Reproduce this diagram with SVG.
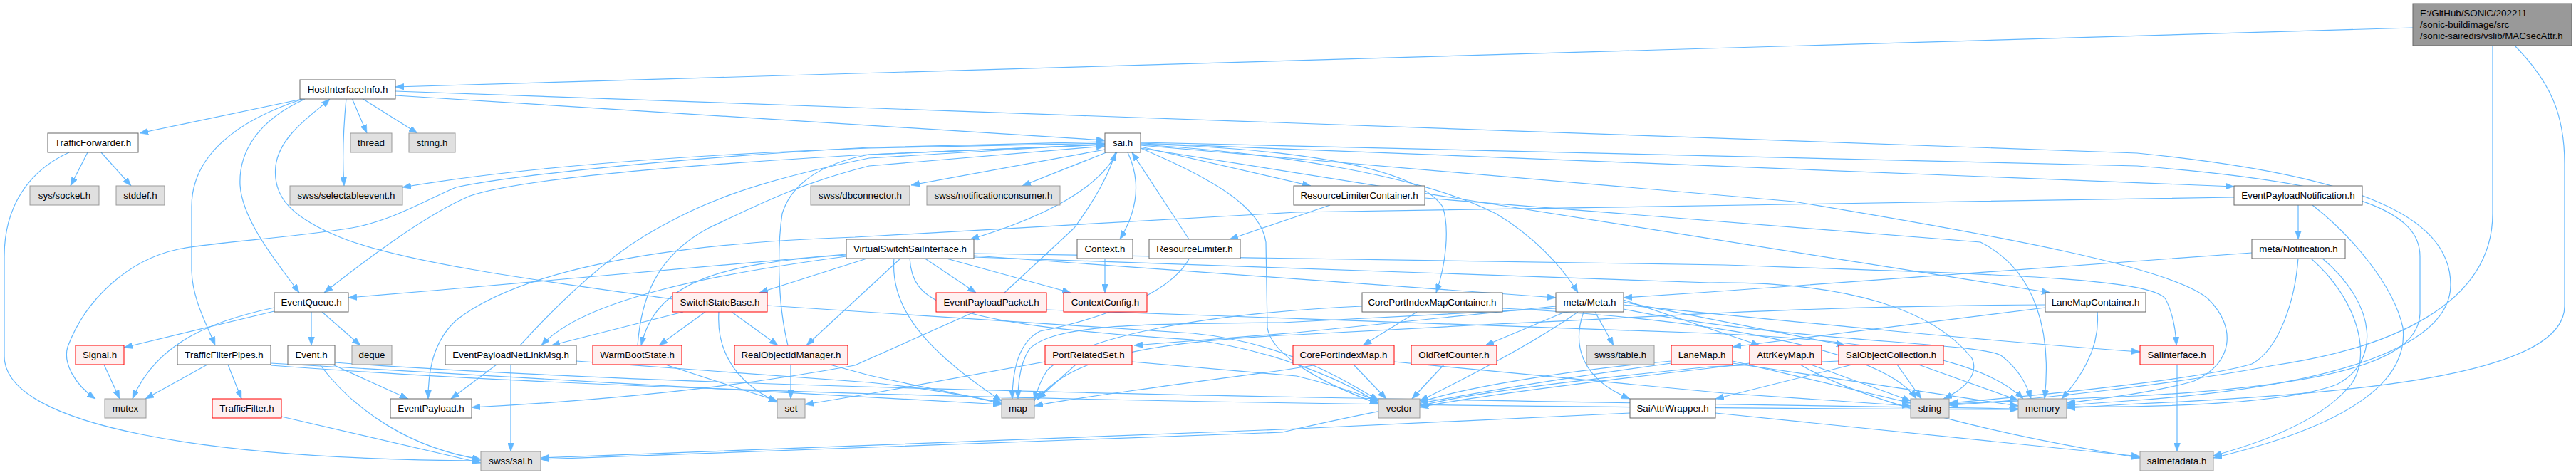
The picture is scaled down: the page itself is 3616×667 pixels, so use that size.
<svg xmlns="http://www.w3.org/2000/svg" width="3616" height="667" viewBox="0 0 3616 667">
<style>
text{font-family:"Liberation Sans",Arial,sans-serif;font-size:13.33px;fill:#000;text-anchor:middle}
.w rect{fill:#fff;stroke:#666;stroke-width:1}
.g rect{fill:#e0e0e0;stroke:#999;stroke-width:1}
.r rect{fill:#fff0f0;stroke:#f00;stroke-width:1}
.root rect{fill:#999;stroke:#666;stroke-width:1}
.root text{text-anchor:start}
#edges path{fill:none;stroke:#63b8ff;stroke-width:1.2;marker-end:url(#ah)}
</style>
<defs>
<marker id="ah" markerWidth="12" markerHeight="9" refX="12" refY="4.5" orient="auto" markerUnits="userSpaceOnUse"><path d="M0,0 L12,4.5 L0,9 z" fill="#63b8ff" stroke="#63b8ff" stroke-width="0.5"/></marker>
</defs>
<rect width="3616" height="667" fill="#fff"/>
<g id="edges">
<path d="M3387,39 L555,122"/>
<path d="M3499,64 L3499,300 C3499,430 3350,490 3192,513 C3050,540 2850,562 2736,569"/>
<path d="M3530,64 C3580,115 3600,160 3600,230 L3600,430 C3600,520 3350,552 3000,567 L2901,573"/>
<path d="M429,138 L196,187"/>
<path d="M494,138 L515,187"/>
<path d="M508,138 L586,187"/>
<path d="M486,138 C482,180 480,220 483,261"/>
<path d="M425,139 C330,170 269,220 269,290 L269,380 C270,420 290,455 302,485"/>
<path d="M428,139 C360,170 335,215 337,260 C340,310 390,370 420,411"/>
<path d="M555,134 L1551,197"/>
<path d="M555,128 L3000,215 C3300,245 3440,300 3440,400 C3440,480 3300,540 3000,562 L2901,569"/>
<path d="M123,214 L99,261"/>
<path d="M142,214 L184,261"/>
<path d="M97,214 C40,240 6,290 6,360 L6,500 C6,600 300,645 675,647"/>
<path d="M1551,201 L1220,208 C900,220 700,240 565,263"/>
<path d="M1551,210 L1279,260"/>
<path d="M1553,214 L1435,261"/>
<path d="M1551,199 L1220,207 C900,225 700,250 640,263 C600,280 550,310 494,320 C400,335 300,340 250,350 C180,365 120,420 95,487 C88,510 105,540 134,560"/>
<path d="M1551,203 L1220,217 C900,235 720,255 660,275 C600,300 520,360 455,411"/>
<path d="M1568,214 C1540,270 1450,310 1362,336"/>
<path d="M1583,214 C1600,250 1600,290 1572,336"/>
<path d="M1601,206 L1840,261"/>
<path d="M1601,201 L3136,262"/>
<path d="M1601,203 C1800,215 1998,248 2100,300 C2150,330 2190,370 2215,411"/>
<path d="M1601,202 C1850,210 1990,240 2025,290 C2035,320 2030,370 2016,411"/>
<path d="M1601,208 L2878,411"/>
<path d="M1601,208 C1700,250 1770,290 1777,340 L1779,460 C1785,500 1860,540 1935,567"/>
<path d="M1601,200 L3000,233 C3320,258 3397,300 3397,360 L3397,440 C3395,500 3300,540 3000,556 L2736,567"/>
<path d="M1601,204 L2518,283 C2800,330 3050,375 3100,420 C3140,460 3135,510 3080,535 C3030,550 2950,560 2901,566"/>
<path d="M1188,357 L620,407 L489,418"/>
<path d="M1188,360 C1000,385 820,420 760,485"/>
<path d="M1188,358 C1000,370 920,400 900,485"/>
<path d="M1220,362 L1066,411"/>
<path d="M1265,362 L1132,485"/>
<path d="M1255,362 C1250,420 1280,480 1406,563"/>
<path d="M1277,362 C1280,420 1310,455 1674,477 C1780,490 1880,530 1935,566"/>
<path d="M1297,362 L1370,411"/>
<path d="M1325,362 L1503,411"/>
<path d="M1367,359 L2184,418"/>
<path d="M1367,356 L2420,372 C2800,385 3020,390 3040,420 C3050,440 3054,460 3055,485"/>
<path d="M1367,361 L2400,397 C2600,395 2716,437 2768,503 C2780,530 2750,550 2728,560"/>
<path d="M3226,288 L3226,336"/>
<path d="M3136,277 L1820,298 L1200,333 C900,343 720,387 640,450 C608,480 601,520 601,560"/>
<path d="M3246,288 C3300,330 3360,400 3373,460 C3380,520 3330,590 3107,643"/>
<path d="M3161,355 L2400,410 L2279,418"/>
<path d="M3226,362 C3222,420 3200,490 3161,511 C3100,530 2900,552 2736,566"/>
<path d="M3243,362 C3310,420 3330,500 3300,540 C3260,590 3180,620 3107,640"/>
<path d="M3259,362 C3340,430 3340,510 3280,540 C3200,570 3000,572 2901,571"/>
<path d="M2197,438 L2085,485"/>
<path d="M2239,438 L2265,485"/>
<path d="M2215,438 C2170,470 2100,510 1993,563"/>
<path d="M2223,438 C2208,480 2215,530 2288,560"/>
<path d="M2279,421 L2470,485"/>
<path d="M2279,424 L2590,485"/>
<path d="M2279,428 C2500,450 2800,480 3004,494"/>
<path d="M2184,430 L1820,467 L1592,485"/>
<path d="M2184,433 L1800,453 C1600,455 1480,455 1445,490 C1432,510 1429,535 1429,560"/>
<path d="M2279,434 C2500,480 2783,480 2810,500 C2835,520 2845,540 2851,560"/>
<path d="M1989,438 L1913,485"/>
<path d="M1912,430 C1700,440 1520,470 1470,520 C1460,535 1455,550 1452,563"/>
<path d="M2109,433 C2450,450 2650,500 2690,560"/>
<path d="M2871,432 L2432,487"/>
<path d="M2944,438 C2948,480 2930,520 2894,560"/>
<path d="M2871,428 C2500,430 2300,447 2100,455 L1820,470 C1600,480 1500,505 1455,562"/>
<path d="M2663,512 L2697,560"/>
<path d="M2693,512 L2833,562"/>
<path d="M2581,507 L2400,515 C2200,535 2050,555 1993,570"/>
<path d="M2600,512 L2408,560"/>
<path d="M2542,512 L2682,563"/>
<path d="M2527,512 C2600,555 2756,603 3004,643"/>
<path d="M2456,510 L2400,517 C2200,540 2050,560 1993,572"/>
<path d="M2346,507 C2200,520 2050,545 1993,565"/>
<path d="M2346,510 C2200,530 2000,560 1800,607 L759,645"/>
<path d="M2432,507 L2682,566"/>
<path d="M2432,510 L2833,570"/>
<path d="M2027,512 L1982,560"/>
<path d="M1900,512 L1946,560"/>
<path d="M1850,512 L1800,520 C1650,540 1500,560 1452,570"/>
<path d="M1957,508 L2420,552 L2682,570"/>
<path d="M2408,580 L3004,641"/>
<path d="M2288,580 L1800,603 L759,643"/>
<path d="M1510,512 L1457,560"/>
<path d="M1467,508 L1220,553 L1130,568"/>
<path d="M1589,508 L1820,528 C1870,540 1900,550 1935,563"/>
<path d="M1410,411 L1508,320 C1530,290 1555,250 1566,214"/>
<path d="M1370,437 L1200,513 C1000,550 800,565 662,572"/>
<path d="M1469,435 L2400,468 C2700,480 2800,520 2840,560"/>
<path d="M1551,362 L1551,411"/>
<path d="M1669,336 L1589,214"/>
<path d="M1670,362 C1640,420 1520,453 1460,465 C1430,480 1421,520 1421,560"/>
<path d="M1867,288 L1726,336"/>
<path d="M2000,278 L2780,340 C2860,380 2880,470 2870,560"/>
<path d="M944,420 C800,400 560,370 470,330 C400,300 383,270 387,233 C392,190 440,160 463,139"/>
<path d="M959,438 L774,485"/>
<path d="M990,438 L925,485"/>
<path d="M1027,438 L1092,485"/>
<path d="M1009,438 C1005,500 1040,540 1091,565"/>
<path d="M1077,429 L1674,468 C1800,480 1880,530 1935,562"/>
<path d="M934,512 L1091,563"/>
<path d="M895,485 C900,420 920,360 995,320 C1060,290 1114,260 1220,233 L1551,205"/>
<path d="M1110,512 L1110,560"/>
<path d="M1165,512 L1220,527 C1300,545 1360,555 1406,567"/>
<path d="M1106,485 C1090,420 1092,340 1098,300 C1110,260 1150,230 1220,217 L1551,203"/>
<path d="M697,512 L633,560"/>
<path d="M717,512 L717,634"/>
<path d="M809,507 L1220,537 C1300,545 1350,555 1406,565"/>
<path d="M730,485 C780,430 850,360 924,320 C980,290 1035,260 1220,222 L1551,202"/>
<path d="M385,437 L174,488"/>
<path d="M385,432 C300,450 220,480 186,560"/>
<path d="M437,438 L437,485"/>
<path d="M452,438 L506,485"/>
<path d="M146,512 L168,560"/>
<path d="M291,512 L204,560"/>
<path d="M320,512 L339,560"/>
<path d="M380,510 C700,530 1100,550 1406,568"/>
<path d="M380,513 C1000,560 2000,572 2833,575"/>
<path d="M467,512 L573,560"/>
<path d="M449,512 C500,580 580,630 675,645"/>
<path d="M470,509 C1000,548 2000,562 2833,574"/>
<path d="M395,585 L675,650"/>
<path d="M3056,512 L3056,634"/>
</g>
<g id="n_root" class="root"><rect x="3387" y="5" width="223" height="59"/><text x="3397" y="23">E:/GitHub/SONiC/202211</text><text x="3397" y="39">/sonic-buildimage/src</text><text x="3397" y="55">/sonic-sairedis/vslib/MACsecAttr.h</text></g>
<g id="n_hii" class="w"><rect x="421" y="112" width="134" height="27"/><text x="488" y="130">HostInterfaceInfo.h</text></g>
<g id="n_tfwd" class="w"><rect x="67" y="187" width="127" height="27"/><text x="130.5" y="205">TrafficForwarder.h</text></g>
<g id="n_thread" class="g"><rect x="492" y="187" width="58" height="27"/><text x="521" y="205">thread</text></g>
<g id="n_stringh" class="g"><rect x="574" y="187" width="65" height="27"/><text x="606.5" y="205">string.h</text></g>
<g id="n_sai" class="w"><rect x="1551" y="187" width="50" height="27"/><text x="1576" y="205">sai.h</text></g>
<g id="n_socket" class="g"><rect x="42" y="261" width="97" height="27"/><text x="90.5" y="279">sys/socket.h</text></g>
<g id="n_stddef" class="g"><rect x="163" y="261" width="68" height="27"/><text x="197" y="279">stddef.h</text></g>
<g id="n_selev" class="g"><rect x="407" y="261" width="158" height="27"/><text x="486" y="279">swss/selectableevent.h</text></g>
<g id="n_dbc" class="g"><rect x="1138" y="261" width="139" height="27"/><text x="1207.5" y="279">swss/dbconnector.h</text></g>
<g id="n_notc" class="g"><rect x="1301" y="261" width="187" height="27"/><text x="1394.5" y="279">swss/notificationconsumer.h</text></g>
<g id="n_rlc" class="w"><rect x="1816" y="261" width="184" height="27"/><text x="1908" y="279">ResourceLimiterContainer.h</text></g>
<g id="n_epn" class="w"><rect x="3136" y="261" width="180" height="27"/><text x="3226" y="279">EventPayloadNotification.h</text></g>
<g id="n_vssi" class="w"><rect x="1188" y="336" width="179" height="27"/><text x="1277.5" y="354">VirtualSwitchSaiInterface.h</text></g>
<g id="n_ctx" class="w"><rect x="1512" y="336" width="78" height="27"/><text x="1551" y="354">Context.h</text></g>
<g id="n_rl" class="w"><rect x="1613" y="336" width="128" height="27"/><text x="1677" y="354">ResourceLimiter.h</text></g>
<g id="n_mnotif" class="w"><rect x="3161" y="336" width="131" height="27"/><text x="3226.5" y="354">meta/Notification.h</text></g>
<g id="n_eq" class="w"><rect x="385" y="411" width="104" height="27"/><text x="437" y="429">EventQueue.h</text></g>
<g id="n_ssb" class="r"><rect x="944" y="411" width="133" height="27"/><text x="1010.5" y="429">SwitchStateBase.h</text></g>
<g id="n_epp" class="r"><rect x="1314" y="411" width="155" height="27"/><text x="1391.5" y="429">EventPayloadPacket.h</text></g>
<g id="n_cc" class="r"><rect x="1493" y="411" width="117" height="27"/><text x="1551.5" y="429">ContextConfig.h</text></g>
<g id="n_cpimc" class="w"><rect x="1912" y="411" width="197" height="27"/><text x="2010.5" y="429">CorePortIndexMapContainer.h</text></g>
<g id="n_meta" class="w"><rect x="2184" y="411" width="95" height="27"/><text x="2231.5" y="429">meta/Meta.h</text></g>
<g id="n_lmc" class="w"><rect x="2871" y="411" width="141" height="27"/><text x="2941.5" y="429">LaneMapContainer.h</text></g>
<g id="n_signal" class="r"><rect x="106" y="485" width="68" height="27"/><text x="140" y="503">Signal.h</text></g>
<g id="n_tfp" class="w"><rect x="249" y="485" width="131" height="27"/><text x="314.5" y="503">TrafficFilterPipes.h</text></g>
<g id="n_event" class="w"><rect x="404" y="485" width="66" height="27"/><text x="437" y="503">Event.h</text></g>
<g id="n_deque" class="g"><rect x="494" y="485" width="56" height="27"/><text x="522" y="503">deque</text></g>
<g id="n_enlm" class="w"><rect x="625" y="485" width="184" height="27"/><text x="717" y="503">EventPayloadNetLinkMsg.h</text></g>
<g id="n_wbs" class="r"><rect x="832" y="485" width="125" height="27"/><text x="894.5" y="503">WarmBootState.h</text></g>
<g id="n_roim" class="r"><rect x="1031" y="485" width="159" height="27"/><text x="1110.5" y="503">RealObjectIdManager.h</text></g>
<g id="n_prs" class="r"><rect x="1467" y="485" width="122" height="27"/><text x="1528" y="503">PortRelatedSet.h</text></g>
<g id="n_cpim" class="r"><rect x="1815" y="485" width="142" height="27"/><text x="1886" y="503">CorePortIndexMap.h</text></g>
<g id="n_oid" class="r"><rect x="1981" y="485" width="120" height="27"/><text x="2041" y="503">OidRefCounter.h</text></g>
<g id="n_table" class="g"><rect x="2227" y="485" width="95" height="27"/><text x="2274.5" y="503">swss/table.h</text></g>
<g id="n_lanemap" class="r"><rect x="2346" y="485" width="86" height="27"/><text x="2389" y="503">LaneMap.h</text></g>
<g id="n_akm" class="r"><rect x="2456" y="485" width="101" height="27"/><text x="2506.5" y="503">AttrKeyMap.h</text></g>
<g id="n_soc" class="r"><rect x="2581" y="485" width="147" height="27"/><text x="2654.5" y="503">SaiObjectCollection.h</text></g>
<g id="n_saiif" class="r"><rect x="3004" y="485" width="103" height="27"/><text x="3055.5" y="503">SaiInterface.h</text></g>
<g id="n_mutex" class="g"><rect x="147" y="560" width="58" height="27"/><text x="176" y="578">mutex</text></g>
<g id="n_tfilter" class="r"><rect x="298" y="560" width="97" height="27"/><text x="346.5" y="578">TrafficFilter.h</text></g>
<g id="n_ep" class="w"><rect x="548" y="560" width="114" height="27"/><text x="605" y="578">EventPayload.h</text></g>
<g id="n_set" class="g"><rect x="1091" y="560" width="39" height="27"/><text x="1110.5" y="578">set</text></g>
<g id="n_map" class="g"><rect x="1406" y="560" width="46" height="27"/><text x="1429" y="578">map</text></g>
<g id="n_vector" class="g"><rect x="1935" y="560" width="58" height="27"/><text x="1964" y="578">vector</text></g>
<g id="n_saw" class="w"><rect x="2288" y="560" width="120" height="27"/><text x="2348" y="578">SaiAttrWrapper.h</text></g>
<g id="n_string" class="g"><rect x="2682" y="560" width="54" height="27"/><text x="2709" y="578">string</text></g>
<g id="n_memory" class="g"><rect x="2833" y="560" width="68" height="27"/><text x="2867" y="578">memory</text></g>
<g id="n_sal" class="g"><rect x="675" y="634" width="84" height="27"/><text x="717" y="652">swss/sal.h</text></g>
<g id="n_saimeta" class="g"><rect x="3004" y="634" width="103" height="27"/><text x="3055.5" y="652">saimetadata.h</text></g>
</svg>
